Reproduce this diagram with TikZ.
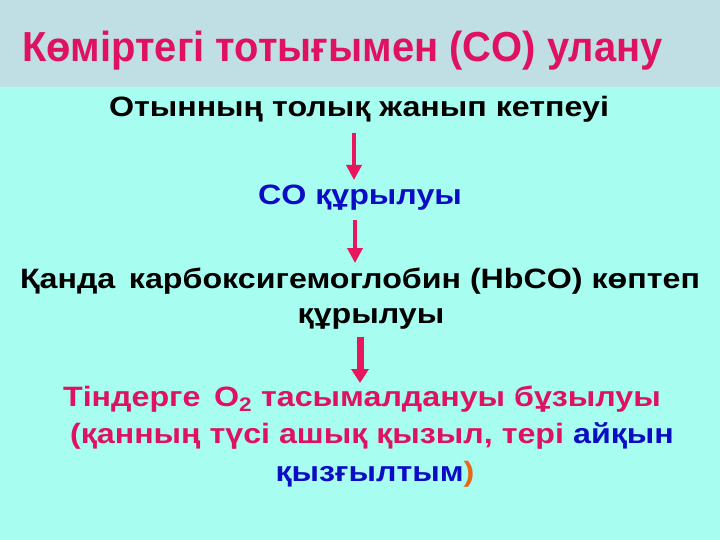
\documentclass[tikz,border=0pt]{standalone}
\usepackage{fontspec}
\setmainfont[FakeStretch=1.15]{Liberation Sans}
\newfontfamily\titlefont[FakeStretch=0.95]{Liberation Sans}
\usetikzlibrary{arrows.meta}
\definecolor{sheetbg}{RGB}{166,253,240}
\definecolor{titlebg}{RGB}{192,223,228}
\definecolor{titlered}{RGB}{222,18,96}
\definecolor{textblue}{RGB}{12,12,196}
\definecolor{arrowred}{RGB}{232,22,92}
\definecolor{bracketorange}{RGB}{232,104,24}

\begin{document}
\begin{tikzpicture}[x=1pt,y=-1pt,
    txt/.style={font=\fontsize{28}{35}\selectfont\bfseries, inner sep=0pt, align=center, anchor=base},
    thinarr/.style={draw=arrowred, line width=3.5pt, -{Triangle[length=15pt,width=15pt]}},
    thickarr/.style={draw=arrowred, line width=7pt, -{Triangle[length=14pt,width=17pt]}}]
    % Background and title band
    \fill[sheetbg] (0,0) rectangle (720,540);
    \fill[titlebg] (0,0) rectangle (720,87);
    \useasboundingbox (0,0) rectangle (720,540);

    \node[anchor=base west, inner sep=0pt, text=titlered, font=\titlefont\fontsize{42}{46}\selectfont\bfseries] (title) at (22,62) {Көміртегі тотығымен (CO) улану};

    % Chain of steps (base = baseline of the last line)
    \node[txt] (s1) at (359,117) {Отынның толық жанып кетпеуі};
    \node[txt, text=textblue] (s2) at (360,205) {CO құрылуы};
    \node[txt] (s3) at (360,323) {Қанда \,карбоксигемоглобин (HbCO) көптеп\\\hspace*{22pt}құрылуы};
    \node[txt, text=titlered, font=\fontsize{28}{37.5}\selectfont\bfseries] (s4) at (362,481) {Тіндерге \,O\textsubscript{2} тасымалдануы бұзылуы\\\hspace*{20pt}(қанның түсі ашық қызыл, тері \textcolor{textblue}{айқын}\\\hspace*{26pt}\textcolor{textblue}{қызғылтым}\textcolor{bracketorange}{)}};

    % Arrows between steps
    \draw[thinarr] ([xshift=-5pt,yshift=-16pt]s1.base) -- ([xshift=-6pt,yshift=25pt]s2.base);
    \draw[thinarr] ([xshift=-5pt,yshift=-15pt]s2.base) -- ([xshift=-5pt,yshift=60pt]s3.base);
    \draw[thickarr] ([yshift=-14pt]s3.base) -- ([xshift=-2pt,yshift=98pt]s4.base);
\end{tikzpicture}
\end{document}
